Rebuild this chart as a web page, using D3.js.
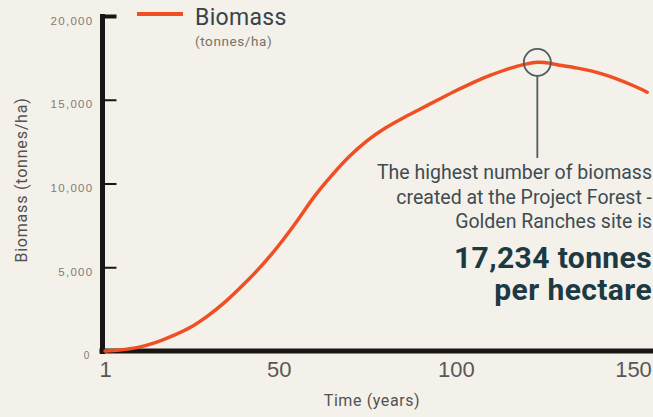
<!DOCTYPE html>
<html>
<head>
<meta charset="utf-8">
<script src="https://cdn.jsdelivr.net/npm/d3@7"></script>
<style>
  body { margin: 0; background: #f4f0ea; }
  svg { display: block; font-family: Roboto, "Open Sans", sans-serif; }
</style>
</head>
<body>
<div id="chart-area"></div>
<script>
// data
var years   = [1, 5, 10, 15, 20, 25, 30, 35, 40, 45, 50, 55, 60, 65, 70, 75, 80, 85, 90, 95, 100, 105, 110, 115, 120, 123, 125, 130, 135, 140, 145, 150, 154];
var biomass = [0, 60, 200, 480, 900, 1400, 2100, 2950, 3950, 5050, 6300, 7700, 9200, 10480, 11620, 12560, 13300, 13900, 14450, 15000, 15540, 16040, 16480, 16860, 17140, 17234, 17220, 17040, 16860, 16620, 16280, 15850, 15450];
var yTicks = [0, 5000, 10000, 15000, 20000];
var xTicks = [1, 50, 100, 150];
var peakYear = 123, peakValue = 17234;
var noteLines = ["The highest number of biomass", "created at the Project Forest -", "Golden Ranches site is"];
var bigLines = ["17,234 tonnes", "per hectare"];

var W = 653, H = 417;
var margin = {left: 101.5, right: 20, top: 16, bottom: 66};

var svg = d3.select("#chart-area").append("svg")
    .attr("width", W)
    .attr("height", H);

svg.append("rect").attr("width", W).attr("height", H).attr("fill", "#f4f0ea");

var x = d3.scaleLinear()
    .domain([0, 150])
    .range([margin.left, W - margin.right]);

var y = d3.scaleLinear()
    .domain([0, 20000])
    .range([H - margin.bottom, margin.top]);

var data = years.map(function(d, i) { return {t: d, v: biomass[i]}; });

// y axis labels
var yLab = svg.append("g")
    .attr("transform", "translate(" + (margin.left - 8) + ",0)")
    .call(d3.axisLeft(y).tickValues(yTicks).tickSize(0).tickPadding(0)
        .tickFormat(function(d) { return d === 0 ? "0" : d3.format(",")(d); }));
yLab.select(".domain").remove();
yLab.selectAll("text")
    .attr("fill", "#807c79")
    .attr("font-size", 11.5)
    .attr("letter-spacing", 1.3)
    .attr("dy", "0.7em");
yLab.selectAll(".tick").filter(function(d) { return d === 0; })
    .select("text").attr("x", -3).attr("font-size", 10);

// y tick marks pointing inward
var yTk = svg.append("g")
    .attr("transform", "translate(" + (margin.left + 1) + ",0)")
    .call(d3.axisRight(y).tickValues(yTicks.slice(1)).tickSize(14).tickFormat(""));
yTk.select(".domain").remove();
yTk.selectAll("line").attr("stroke", "#1a1515").attr("stroke-width", 2);
yTk.selectAll(".tick").filter(function(d) { return d === 20000; })
    .select("line").attr("stroke-width", 4);

// x axis labels
var xLab = svg.append("g")
    .attr("transform", "translate(0," + (y(0) + 6) + ")")
    .call(d3.axisBottom(x).tickValues(xTicks).tickSize(0).tickPadding(4));
xLab.select(".domain").remove();
xLab.selectAll("text")
    .attr("fill", "#5a5856")
    .attr("font-size", 22);

// axis lines
svg.append("line")
    .attr("x1", x(0) + 1).attr("x2", x(0) + 1)
    .attr("y1", y(20000) - 2).attr("y2", y(0) + 3)
    .attr("stroke", "#1a1515").attr("stroke-width", 5);
svg.append("line")
    .attr("x1", x(0) - 2).attr("x2", W)
    .attr("y1", y(0)).attr("y2", y(0))
    .attr("stroke", "#1a1515").attr("stroke-width", 5);

// biomass line
var line = d3.line()
    .x(function(d) { return x(d.t); })
    .y(function(d) { return y(d.v); })
    .curve(d3.curveCatmullRom.alpha(0.5));

svg.append("path")
    .datum(data)
    .attr("fill", "none")
    .attr("stroke", "#f04e23")
    .attr("stroke-width", 3.5)
    .attr("stroke-linecap", "round")
    .attr("d", line);

// peak marker
svg.append("circle")
    .attr("cx", x(peakYear)).attr("cy", y(peakValue))
    .attr("r", 13.5)
    .attr("fill", "none")
    .attr("stroke", "#4e5d5f").attr("stroke-width", 1.8);
svg.append("line")
    .attr("x1", x(peakYear)).attr("x2", x(peakYear))
    .attr("y1", y(peakValue) + 13.5).attr("y2", 158)
    .attr("stroke", "#4e5d5f").attr("stroke-width", 1.8);

// annotation
var note = svg.append("g").attr("text-anchor", "end");
noteLines.forEach(function(s, i) {
    note.append("text")
        .attr("x", 652).attr("y", 179 + i * 24.5)
        .attr("font-size", 19.5)
        .attr("fill", "#3e4c52")
        .text(s);
});
bigLines.forEach(function(s, i) {
    note.append("text")
        .attr("x", 652).attr("y", 268 + i * 32)
        .attr("font-size", 30)
        .attr("font-weight", "bold")
        .attr("letter-spacing", 0.4)
        .attr("fill", "#1c3a44")
        .text(s);
});

// legend
svg.append("line")
    .attr("x1", 137).attr("x2", 183)
    .attr("y1", 14).attr("y2", 14)
    .attr("stroke", "#f04e23").attr("stroke-width", 4);
svg.append("text")
    .attr("x", 195).attr("y", 25)
    .attr("font-size", 23)
    .attr("letter-spacing", 0.3)
    .attr("fill", "#3a4448")
    .text("Biomass");
svg.append("text")
    .attr("x", 195).attr("y", 46)
    .attr("font-size", 13.5)
    .attr("letter-spacing", 0.6)
    .attr("fill", "#7a6f6a")
    .text("(tonnes/ha)");

// axis titles
svg.append("text")
    .attr("transform", "translate(27," + 180 + ") rotate(-90)")
    .attr("text-anchor", "middle")
    .attr("font-size", 16)
    .attr("letter-spacing", 0.8)
    .attr("fill", "#55524f")
    .text("Biomass (tonnes/ha)");
svg.append("text")
    .attr("x", 372).attr("y", 406)
    .attr("text-anchor", "middle")
    .attr("font-size", 16)
    .attr("letter-spacing", 0.6)
    .attr("fill", "#55524f")
    .text("Time (years)");
</script>
</body>
</html>
